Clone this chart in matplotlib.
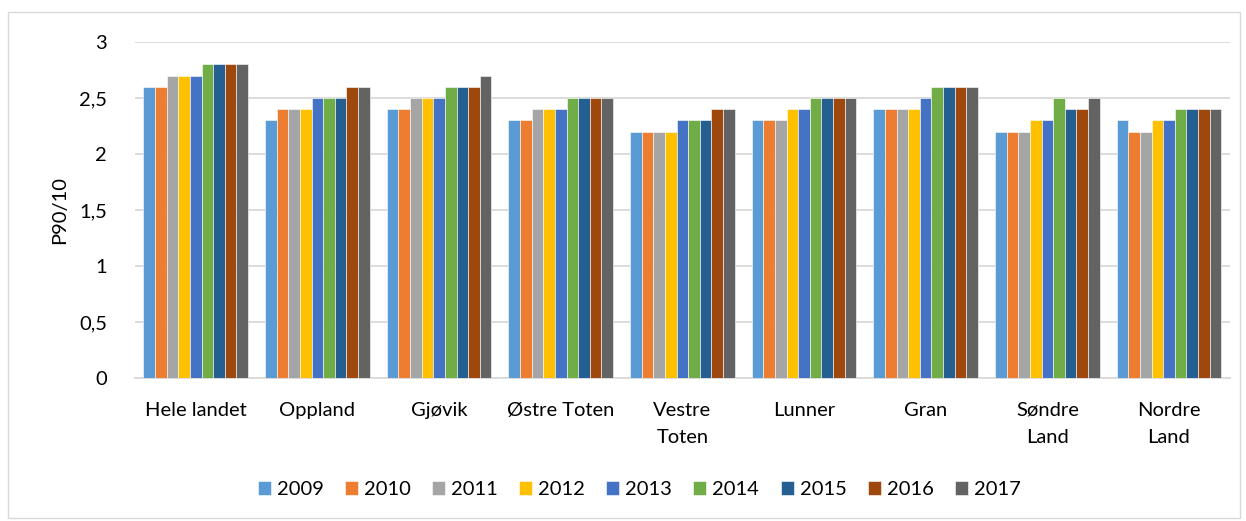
import numpy as np
import matplotlib.pyplot as plt
from matplotlib.patches import Rectangle

plt.rcParams['font.family'] = ['Lato', 'DejaVu Sans']

# kommuner og år
kommuner = ['Hele landet', 'Oppland', 'Gjøvik', 'Østre Toten', 'Vestre\nToten',
            'Lunner', 'Gran', 'Søndre\nLand', 'Nordre\nLand']
aar = ['2009', '2010', '2011', '2012', '2013', '2014', '2015', '2016', '2017']
farger = ['#5b9bd5', '#ed7d31', '#a5a5a5', '#ffc000', '#4472c4',
          '#70ad47', '#255e91', '#9e480e', '#636363']

# P90/10 per kommune, en rad per år
p2009 = [2.6, 2.3, 2.4, 2.3, 2.2, 2.3, 2.4, 2.2, 2.3]
p2010 = [2.6, 2.4, 2.4, 2.3, 2.2, 2.3, 2.4, 2.2, 2.2]
p2011 = [2.7, 2.4, 2.5, 2.4, 2.2, 2.3, 2.4, 2.2, 2.2]
p2012 = [2.7, 2.4, 2.5, 2.4, 2.2, 2.4, 2.4, 2.3, 2.3]
p2013 = [2.7, 2.5, 2.5, 2.4, 2.3, 2.4, 2.5, 2.3, 2.3]
p2014 = [2.8, 2.5, 2.6, 2.5, 2.3, 2.5, 2.6, 2.5, 2.4]
p2015 = [2.8, 2.5, 2.6, 2.5, 2.3, 2.5, 2.6, 2.4, 2.4]
p2016 = [2.8, 2.6, 2.6, 2.5, 2.4, 2.5, 2.6, 2.4, 2.4]
p2017 = [2.8, 2.6, 2.7, 2.5, 2.4, 2.5, 2.6, 2.5, 2.4]
serier = [p2009, p2010, p2011, p2012, p2013, p2014, p2015, p2016, p2017]

fig = plt.figure(figsize=(12.46, 5.21), dpi=100)
ax = fig.add_axes([0.1083, 0.2745, 0.8787, 0.645])

x = np.arange(len(kommuner))
bredde = 0.86 / len(aar)
for i, (verdier, farge) in enumerate(zip(serier, farger)):
    pos = x - 0.43 + bredde * (i + 0.5)
    ax.bar(pos, verdier, width=bredde, color=farge, label=aar[i],
           edgecolor='white', linewidth=0.4, zorder=3)

ax.set_xlim(-0.5, len(kommuner) - 0.5)
ax.set_ylim(0, 3)
ax.set_yticks(np.arange(0, 3.01, 0.5))
ax.set_yticklabels(['0', '0,5', '1', '1,5', '2', '2,5', '3'])
ax.yaxis.grid(True, color='#d9d9d9', linewidth=1.3, zorder=0)
ax.set_xticks(x)
ax.set_xticklabels(kommuner, linespacing=1.75)
ax.tick_params(axis='both', length=0, labelsize=14.5, colors='black')
ax.tick_params(axis='y', pad=20)
ax.tick_params(axis='x', pad=17)
for s in ['top', 'right', 'left']:
    ax.spines[s].set_visible(False)
ax.spines['bottom'].set_color('#d9d9d9')
ax.spines['bottom'].set_linewidth(1.3)
ax.set_ylabel('P90/10', fontsize=14.5, labelpad=8)

ax.legend(loc='center', bbox_to_anchor=(0.513, 0.06), bbox_transform=fig.transFigure,
          ncol=9, frameon=False, fontsize=14.5, handlelength=0.65, handleheight=0.65,
          handletextpad=0.3, columnspacing=1.05)

fig.patches.append(Rectangle((8 / 1246, 3 / 521), 1232 / 1246, 506 / 521,
                             transform=fig.transFigure, fill=False,
                             edgecolor='#d9d9d9', linewidth=1))

fig.savefig('out.png', dpi=100)
